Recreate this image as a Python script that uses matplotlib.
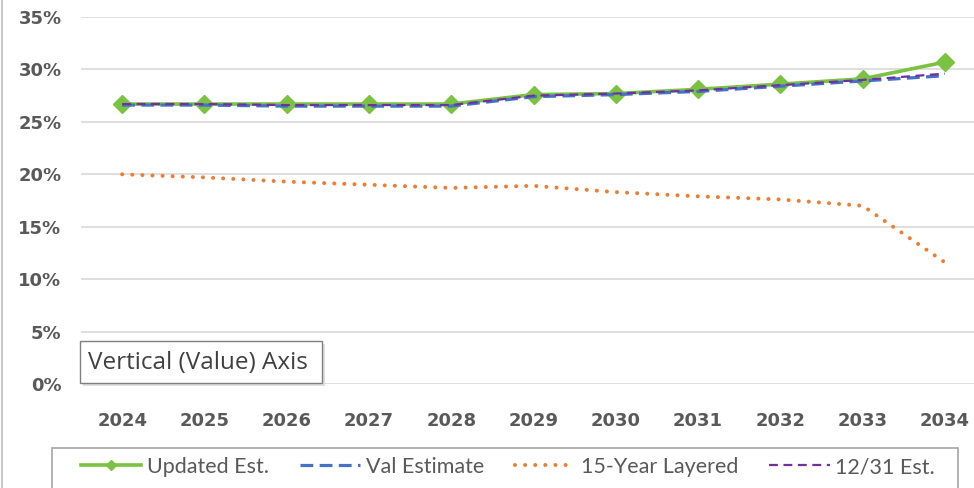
import numpy as np
import matplotlib
matplotlib.use("Agg")
import matplotlib.pyplot as plt
from matplotlib.patches import Rectangle
from matplotlib.lines import Line2D
from matplotlib.ticker import PercentFormatter

years = ["2024", "2025", "2026", "2027", "2028", "2029",
         "2030", "2031", "2032", "2033", "2034"]

updated_est = [26.7, 26.7, 26.7, 26.7, 26.7, 27.6, 27.7, 28.1, 28.6, 29.1, 30.7]
val_estimate = [26.6, 26.6, 26.5, 26.5, 26.5, 27.4, 27.6, 27.9, 28.4, 28.9, 29.4]
layered_15yr = [20.0, 19.7, 19.3, 19.0, 18.7, 18.9, 18.3, 17.9, 17.6, 17.0, 11.6]
est_1231 = [26.7, 26.7, 26.6, 26.6, 26.6, 27.5, 27.7, 28.0, 28.5, 29.0, 29.6]

yticks = [0, 5, 10, 15, 20, 25, 30, 35]

GREEN = "#7cc242"
BLUE = "#4472c4"
ORANGE = "#ed7d31"
PURPLE = "#7030a0"
TXT = "#595959"

fig = plt.figure(figsize=(9.74, 4.88), dpi=100)
ax = fig.add_axes([81 / 974, 104 / 488, 905 / 974, 367 / 488])

x = np.arange(len(years))

ax.plot(x, updated_est, color=GREEN, lw=2.6, marker="D", markersize=9.5,
        label="Updated Est.", zorder=3, solid_joinstyle="round")
ax.plot(x, val_estimate, color=BLUE, lw=2.3, ls=(0, (4, 2)),
        label="Val Estimate", zorder=4)
ax.plot(x, layered_15yr, color=ORANGE, lw=2.9, ls=(0, (0.01, 2.5)),
        dash_capstyle="round", label="15-Year Layered", zorder=3)
ax.plot(x, est_1231, color=PURPLE, lw=1.6, ls=(0, (4, 2.5)),
        label="12/31 Est.", zorder=5)

ax.set_xlim(-0.5, len(years) - 0.5)
ax.set_ylim(0, 35)
ax.set_yticks(yticks)
ax.yaxis.set_major_formatter(PercentFormatter(decimals=0))
ax.set_xticks(x)
ax.set_xticklabels(years)
ax.grid(axis="y", color="#d9d9d9", lw=1.2)
ax.set_axisbelow(True)
for s in ax.spines.values():
    s.set_visible(False)
ax.tick_params(axis="both", length=0, labelcolor=TXT, labelsize=13)
ax.tick_params(axis="y", pad=14)
ax.tick_params(axis="x", pad=20)
for lbl in ax.get_xticklabels() + ax.get_yticklabels():
    lbl.set_fontweight("bold")

# chart area left border
fig.add_artist(Line2D([1.5 / 974, 1.5 / 974], [0, 1], color="#c8c8c8",
                      lw=1.5, transform=fig.transFigure))

# legend (frame drawn separately)
fig.add_artist(Rectangle((52 / 974, -10 / 488), 906 / 974, 50 / 488,
                         transform=fig.transFigure, facecolor="white",
                         edgecolor="#a6a6a6", lw=1.2, zorder=1))
leg = fig.legend(loc="center", bbox_to_anchor=(508 / 974, 21 / 488),
                 ncol=4, frameon=False,
                 prop={"family": "Lato", "size": 15.5},
                 handlelength=2.8, handletextpad=0.25, columnspacing=1.45,
                 markerscale=0.55, borderaxespad=0, labelcolor=TXT)
leg.set_zorder(2)

# tooltip box
fig.add_artist(Rectangle((83 / 974, (488 - 386) / 488), 242 / 974, 42 / 488,
                         transform=fig.transFigure, facecolor="#e0e0e0",
                         edgecolor="none", zorder=9))
fig.add_artist(Rectangle((80 / 974, (488 - 383) / 488), 242 / 974, 42 / 488,
                         transform=fig.transFigure, facecolor="white",
                         edgecolor="#7f7f7f", lw=1.0, zorder=10))
fig.text(88 / 974, (488 - 363) / 488, "Vertical (Value) Axis",
         ha="left", va="center", family="Open Sans", fontsize=17.5,
         color="#404040", zorder=11)

fig.savefig("out.png", dpi=100)
